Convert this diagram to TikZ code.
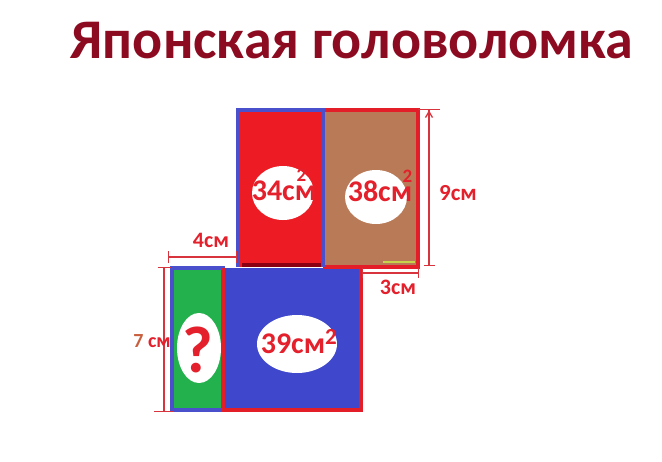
\documentclass[tikz,border=0pt]{standalone}
\usepackage{fontspec}
\setmainfont{Carlito}
\usepackage{xcolor}
\usetikzlibrary{positioning,arrows.meta}
\definecolor{titlered}{HTML}{8C0B20}
\definecolor{paintred}{HTML}{ED1C24}
\definecolor{paintbrown}{HTML}{B97A57}
\definecolor{paintgreen}{HTML}{22B14C}
\definecolor{paintblue}{HTML}{3F48CC}
\definecolor{edgeblue}{HTML}{4A4FCB}
\definecolor{edgered}{HTML}{E31E28}
\definecolor{darkstrip}{HTML}{8A0012}
\definecolor{labelred}{HTML}{E3202B}
\definecolor{dimred}{HTML}{D8343E}
\definecolor{sevenbrown}{HTML}{C8603F}
\definecolor{tickgreen}{HTML}{C8D44A}
\tikzset{
	area/.style={text=labelred, anchor=base, inner sep=0pt, font=\bfseries\fontsize{30}{30}\selectfont},
	dim/.style={draw=dimred, line width=1.3pt},
	dimlabel/.style={text=labelred, inner sep=0pt, font=\bfseries\fontsize{22}{22}\selectfont},
}
\begin{document}
\begin{tikzpicture}[x=1pt, y=-1pt]
		\useasboundingbox (0,0) rectangle (662,461);
		\node[text=titlered, font=\bfseries\fontsize{56}{56}\selectfont] (title) at (352,41) {Японская головоломка};
		\coordinate (1) at (238,110);
		\coordinate (2) at (323,110);
		\coordinate (3) at (418,110);
		\coordinate (4) at (238,267);
		\coordinate (5) at (323,267);
		\coordinate (6) at (418,267);
		\coordinate (7) at (172,268);
		\coordinate (8) at (223,268);
		\coordinate (9) at (361,268);
		\coordinate (10) at (172,411);
		\coordinate (11) at (223,410);
		\coordinate (12) at (361,410);
		\fill[paintgreen] (7) rectangle (11);
		\fill[paintblue] (8) rectangle (12);
		\draw[edgeblue, line width=3.5pt] (7) rectangle (11);
		\draw[edgered, line width=3.5pt] (8) -- (11) -- (12) -- (9);
		\fill[paintred] (1) rectangle (5);
		\fill[paintbrown] (2) rectangle (6);
		\fill[darkstrip] (242,263) rectangle (321,267);
		\draw[tickgreen, line width=1.5pt] (383,262) -- (415,262);
		\draw[edgered, line width=3.5pt] (2) -- (3) -- (6) -- (5);
		\draw[edgeblue, line width=3.5pt] (4) -- (1) -- (2) -- (5);
		\fill[white] (283,193) ellipse [x radius=31, y radius=27];
		\fill[white] (376,197) ellipse [x radius=31, y radius=27];
		\fill[white] (199,348) ellipse [x radius=22, y radius=35];
		\fill[white] (297,344) ellipse [x radius=40, y radius=29];
		\node[area] (s34) at (284,200) {34см\llap{\raisebox{19pt}{\fontsize{19}{19}\selectfont 2}\kern10pt}};
		\node[area] (s38) at (380,201) {38см\llap{\raisebox{19pt}{\fontsize{19}{19}\selectfont 2}}};
		\node[area] (s39) at (293,353) {39см\rlap{\raisebox{9pt}{\fontsize{23}{23}\selectfont 2}}};
		\node[area, font=\bfseries\fontsize{66}{66}\selectfont] (sq) at (198,372) {?};
		\coordinate (d1) at (429,109);
		\coordinate (d2) at (429,266);
		\coordinate (d3) at (168,257);
		\coordinate (d4) at (237,257);
		\coordinate (d5) at (164,267);
		\coordinate (d6) at (164,412);
		\coordinate (d7) at (362,273);
		\coordinate (d8) at (419,273);
		\draw[dim, {Bar[width=22pt] Straight Barb[length=6pt, width=7pt]}-{Bar[width=11pt]}] (d1) -- (d2);
		\draw[dim, {Bar[width=12pt]}-{Bar[width=12pt]}] (d3) -- (d4);
		\draw[dim, {Bar[width=13pt]}-{Bar[width=20pt]}] (d5) -- (d6);
		\draw[dim, {Bar[width=10pt]}-{Bar[width=10pt]}] (d7) -- (d8);
		\node[dimlabel, font=\bfseries\fontsize{23}{23}\selectfont] (l9) at (458,193) {9см};
		\node[dimlabel] (l4) at (211,240) {4см};
		\node[dimlabel] (l3) at (398,287) {3см};
		\node[dimlabel, font=\bfseries\fontsize{20}{20}\selectfont] (l7) at (152,341) {\textcolor{sevenbrown}{7} см};
\end{tikzpicture}
\end{document}
